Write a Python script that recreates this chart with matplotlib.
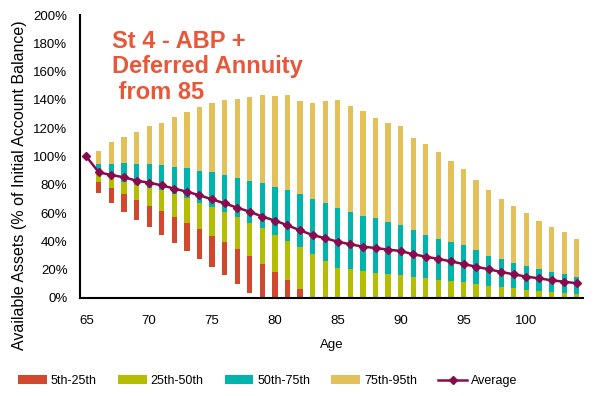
import numpy as np
import matplotlib.pyplot as plt

plt.rcParams['font.family'] = ['Liberation Sans', 'DejaVu Sans']

ages = np.arange(65, 105)

# percentile bands (% of initial account balance)
p5 = [100, 74.0, 66.9, 61.0, 55.1, 49.9, 44.8, 39.1, 33.5, 27.6, 21.7, 16.0, 9.7, 3.8,
      0, 0, 0, 0, 0, 0, 0, 0, 0, 0, 0, 0, 0, 0, 0, 0, 0, 0, 0, 0, 0, 0, 0, 0, 0, 0]
p25 = [100, 82.2, 78.0, 73.3, 69.3, 65.3, 61.7, 57.5, 53.2, 48.8, 44.1, 39.3, 34.9, 29.4,
       24.0, 18.4, 12.7, 6.4, 0, 0, 0, 0, 0, 0, 0, 0, 0, 0, 0, 0, 0, 0, 0, 0, 0, 0, 0, 0, 0, 0]
p50 = [100, 87.5, 84.5, 82.0, 80.0, 78.0, 76.0, 73.5, 70.4, 67.4, 64.3, 60.8, 57.5, 53.2,
       49.2, 44.5, 40.3, 35.8, 30.9, 26.1, 21.0, 20.3, 19.3, 17.9, 17.2, 16.3, 14.8, 13.9,
       12.7, 12.0, 11.1, 9.9, 8.7, 7.8, 6.8, 5.9, 4.9, 4.2, 3.5, 2.8]
p75 = [100, 94.7, 94.9, 95.4, 94.9, 94.5, 94.0, 92.8, 91.9, 89.8, 88.8, 86.7, 84.6, 82.5,
       81.3, 78.7, 76.3, 73.3, 70.0, 67.1, 63.6, 60.8, 58.0, 56.3, 53.9, 51.6, 48.1, 44.5,
       41.7, 39.6, 37.5, 33.7, 29.7, 27.3, 24.7, 22.6, 20.3, 18.4, 17.0, 15.1]
p95 = [100, 103.9, 110.0, 113.5, 117.6, 121.3, 123.9, 127.7, 131.7, 135.0, 137.8, 139.9,
       140.9, 142.2, 143.2, 142.5, 143.2, 139.5, 137.6, 139.5, 139.9, 135.7, 132.2, 127.0,
       123.4, 121.8, 113.3, 108.8, 102.9, 97.1, 91.4, 83.6, 76.6, 70.2, 65.3, 60.3, 54.4,
       50.2, 46.4, 41.7]
average = [100, 88.8, 86.9, 85.3, 82.9, 81.5, 79.6, 77.3, 75.1, 72.6, 69.7, 66.9, 63.8, 61.0,
           57.5, 54.7, 51.4, 47.8, 44.5, 42.2, 39.8, 37.9, 36.3, 35.3, 34.2, 33.2, 30.9, 29.2,
           27.6, 25.9, 24.0, 22.1, 20.3, 18.4, 16.7, 15.1, 13.9, 12.5, 11.5, 10.4]

bands = [('5th-25th', p5, p25, '#D2482C'),
         ('25th-50th', p25, p50, '#B5BD00'),
         ('50th-75th', p50, p75, '#00B4AE'),
         ('75th-95th', p75, p95, '#E3C158')]

fig = plt.figure(figsize=(6, 3.96), dpi=100)
ax = fig.add_axes([0.1333, 0.2475, 0.8384, 0.7146])

handles = []
for name, lo, hi, col in bands:
    lo = np.array(lo)
    hi = np.array(hi)
    b = ax.bar(ages, hi - lo, bottom=lo, width=0.42, color=col, label=name)
    handles.append(b)

line, = ax.plot(ages, average, color='#8A0A4E', lw=1.8, marker='D', ms=4.5, label='Average')
handles.append(line)

ax.set_xlim(64.5, 104.5)
ax.set_ylim(0, 200)
ax.set_yticks(np.arange(0, 201, 20))
ax.set_yticklabels([f'{v}%' for v in range(0, 201, 20)], fontsize=9.5)
ax.set_xticks(np.arange(65, 101, 5))
ax.tick_params(axis='x', labelsize=9.5, length=0, pad=12)
ax.tick_params(axis='y', length=0, pad=9)
for s in ['top', 'right']:
    ax.spines[s].set_visible(False)
for s in ['left', 'bottom']:
    ax.spines[s].set_linewidth(1.5)

ax.set_xlabel('Age', fontsize=9.5)
ax.xaxis.set_label_coords(0.5, -0.145)
ax.set_ylabel('Available Assets (% of Initial Account Balance)', fontsize=11.5, va='center')
ax.yaxis.set_label_coords(-0.12, 0.40)

fig.text(0.187, 0.925, 'St 4 - ABP +\nDeferred Annuity\n from 85', color='#E9573B',
         fontsize=17, fontweight='bold', va='top', ha='left', linespacing=1.15)

fig.legend(handles=handles, loc='center', bbox_to_anchor=(0.446, 0.038), ncol=5,
           frameon=False, fontsize=9, handlelength=2.3, handletextpad=0.3, columnspacing=1.7)

plt.savefig('out.png')
